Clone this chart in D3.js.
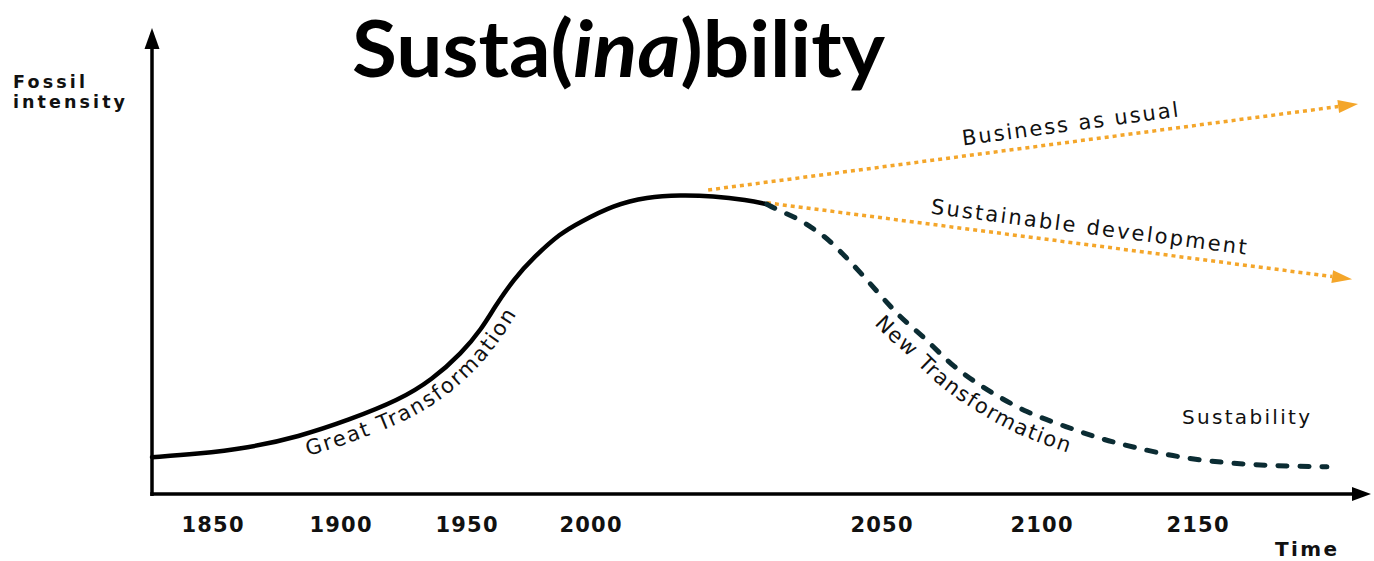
<!DOCTYPE html>
<html><head><meta charset="utf-8">
<script src="https://cdn.jsdelivr.net/npm/d3@7"></script>
<style>html,body{margin:0;padding:0;background:#fff;overflow:hidden}</style>
</head><body>
<svg id="chart" width="1374" height="561"></svg>
<script>
// ---------- data ----------
const tickYears = [1850, 1900, 1950, 2000, 2050, 2100, 2150];
// "Great Transformation" (solid) – year / fossil intensity (0–100)
const greatYears  = [1826.2,1844.0,1863.9,1883.7,1903.6,1923.4,1936.5,1948.4,1956.3,1961.5,1969.4,1977.4,1988.1,1996.0,2004.0,2009.8,2015.5,2021.1,2027.0,2030.4];
const greatValues = [8.0,8.7,10.0,12.4,16.1,20.4,24.8,30.7,35.9,40.6,46.8,51.5,56.7,59.1,62.8,64.6,65.0,64.8,63.9,63.0];
// "New Transformation" (dashed)
const newYears  = [2030.4,2032.3,2035.6,2038.7,2041.2,2046.4,2053.8,2058.1,2064.4,2072.5,2083.1,2095.6,2108.3,2118.9,2129.5,2143.6,2159.5,2175.4,2191.3];
const newValues = [63.0,61.7,60.0,57.4,55.2,48.3,40.0,37.2,33.5,27.6,22.6,17.6,14.6,12.0,10.2,8.0,6.7,6.1,5.9];
// scenario arrows
const bauYears  = [2020.3, 2201.2];
const bauValues = [66.1, 84.8];
const sdYears   = [2030.4, 2199.3];
const sdValues  = [63.3, 46.7];

// ---------- layout ----------
const svg = d3.select("#chart");
const x = d3.scaleLinear()
  .domain([1825.4, 1850, 1900, 1950, 2000, 2050, 2100, 2150, 2205])
  .range([150, 212, 340, 466, 590, 881, 1041, 1197, 1370]);
const y = d3.scaleLinear().domain([0, 100]).range([494, 34]);

const FONT = "'DejaVu Sans', Verdana, sans-serif";
const ORANGE = "#f4a62a";
const TEAL = "#0b2c33";

// title (scaled horizontally to the reference width)
const tg = svg.append("g");
const title = tg.append("text")
  .attr("x", 0).attr("y", 0)
  .attr("font-family", "Lato, 'Open Sans', sans-serif")
  .attr("font-weight", 700).attr("font-size", 79)
  .attr("fill", "#000");
title.append("tspan").text("Susta(");
title.append("tspan").attr("font-style", "italic").text("ina");
title.append("tspan").text(")bility");
const tw = title.node().getComputedTextLength();
tg.attr("transform", `translate(352,77) scale(${533 / tw},1)`);

// y label
svg.append("text").attr("x", 13).attr("y", 88).attr("font-family", FONT)
  .attr("font-weight", 700).attr("font-size", 17.5).attr("textLength", 72)
  .attr("fill", "#111").text("Fossil");
svg.append("text").attr("x", 13).attr("y", 108).attr("font-family", FONT)
  .attr("font-weight", 700).attr("font-size", 17.5).attr("textLength", 112)
  .attr("fill", "#111").text("intensity");

// axes lines with arrows
const x0 = x.range()[0] + 2;
svg.append("line").attr("x1", x0).attr("x2", x0).attr("y1", y(0) + 2).attr("y2", 46)
  .attr("stroke", "#000").attr("stroke-width", 3.5);
svg.append("path").attr("d", `M${x0},28 L${x0-7.5},49 L${x0+7.5},49 Z`).attr("fill", "#000");
const xEnd = x.range()[x.range().length - 1];
svg.append("line").attr("x1", x0 - 1.75).attr("x2", xEnd - 16).attr("y1", y(0)).attr("y2", y(0))
  .attr("stroke", "#000").attr("stroke-width", 3.5);
svg.append("path").attr("d", `M${xEnd+1},${y(0)} L${xEnd-18},${y(0)-7} L${xEnd-18},${y(0)+7} Z`).attr("fill", "#000");

// tick labels
const gx = svg.append("g").attr("transform", `translate(0,${y(0)})`)
  .call(d3.axisBottom(x).tickValues(tickYears).tickSize(0).tickPadding(0).tickFormat(d3.format("d")));
gx.select(".domain").remove();
gx.selectAll("text").attr("y", 38).attr("dy", 0)
  .attr("font-family", FONT).attr("font-weight", 700).attr("font-size", 21)
  .attr("textLength", 62).attr("fill", "#111");

svg.append("text").attr("x", 1275).attr("y", 556).attr("font-family", FONT)
  .attr("font-weight", 700).attr("font-size", 20).attr("textLength", 62)
  .attr("fill", "#111").text("Time");

// curves
const line = d3.line().x(d => x(d[0])).y(d => y(d[1])).curve(d3.curveBasis);
const greatData = greatYears.map((d, i) => [d, greatValues[i]]);
const newData = newYears.map((d, i) => [d, newValues[i]]);

// scenario dotted arrows
function dotted(years, vals) {
  const p0 = [x(years[0]), y(vals[0])], p1 = [x(years[1]), y(vals[1])];
  const ang = Math.atan2(p1[1] - p0[1], p1[0] - p0[0]);
  const L = 20, W = 6.5;
  const bx = p1[0] - L * Math.cos(ang), by = p1[1] - L * Math.sin(ang);
  svg.append("line").attr("x1", p0[0]).attr("y1", p0[1]).attr("x2", bx).attr("y2", by)
    .attr("stroke", ORANGE).attr("stroke-width", 3.5).attr("stroke-dasharray", "4 4");
  svg.append("path").attr("d",
    `M${p1[0]},${p1[1]} L${bx - W*Math.sin(ang)},${by + W*Math.cos(ang)} L${bx + W*Math.sin(ang)},${by - W*Math.cos(ang)} Z`)
    .attr("fill", ORANGE);
}
dotted(bauYears, bauValues);
dotted(sdYears, sdValues);

const greatPath = svg.append("path").datum(greatData).attr("d", line)
  .attr("fill", "none").attr("stroke", "#000").attr("stroke-width", 4.5).attr("stroke-linecap", "round");
const newPath = svg.append("path").datum(newData).attr("d", line)
  .attr("fill", "none").attr("stroke", TEAL).attr("stroke-width", 5)
  .attr("stroke-linecap", "round").attr("stroke-dasharray", "9 13");

// text following curve (offset below the curve)
function curveLabel(pathNode, id, offset, start, end, label) {
  const L = pathNode.getTotalLength();
  const pts = [];
  for (let s = 0; s <= L; s += 2) {
    const p = pathNode.getPointAtLength(s);
    const a = pathNode.getPointAtLength(Math.max(0, s - 3));
    const b = pathNode.getPointAtLength(Math.min(L, s + 3));
    let dx = b.x - a.x, dy = b.y - a.y; const n = Math.hypot(dx, dy) || 1; dx /= n; dy /= n;
    pts.push([p.x - dy * offset, p.y + dx * offset]);
  }
  const cum = [0];
  for (let i = 1; i < pts.length; i++) cum.push(cum[i-1] + Math.hypot(pts[i][0]-pts[i-1][0], pts[i][1]-pts[i-1][1]));
  const nearest = t => { let bi = 0, bd = Infinity; pts.forEach((p, i) => { const d = Math.hypot(p[0]-t[0], p[1]-t[1]); if (d < bd) { bd = d; bi = i; } }); return bi; };
  const i0 = nearest(start), i1 = nearest(end);
  svg.append("defs").append("path").attr("id", id).attr("d", d3.line().curve(d3.curveBasis)(pts));
  svg.append("text").attr("font-family", FONT).attr("font-size", 21).attr("fill", "#111")
    .attr("textLength", cum[i1] - cum[i0]).attr("lengthAdjust", "spacing")
    .append("textPath").attr("href", "#" + id).attr("startOffset", cum[i0]).text(label);
}
curveLabel(greatPath.node(), "gp", 22, [309, 457], [527, 322], "Great Transformation");
curveLabel(newPath.node(), "np", 24, [864, 332], [1069, 452], "New Transformation");

// scenario labels
svg.append("text").attr("transform", "translate(1071,131) rotate(-7.6)")
  .attr("text-anchor", "middle").attr("font-family", FONT).attr("font-size", 21)
  .attr("textLength", 218).attr("fill", "#111").text("Business as usual");
svg.append("text").attr("transform", "translate(1088,234) rotate(7.4)")
  .attr("text-anchor", "middle").attr("font-family", FONT).attr("font-size", 21)
  .attr("textLength", 318).attr("fill", "#111").text("Sustainable development");
svg.append("text").attr("x", 1182).attr("y", 424).attr("font-family", FONT)
  .attr("font-size", 20).attr("textLength", 128).attr("fill", "#111").text("Sustability");
</script>
</body></html>
